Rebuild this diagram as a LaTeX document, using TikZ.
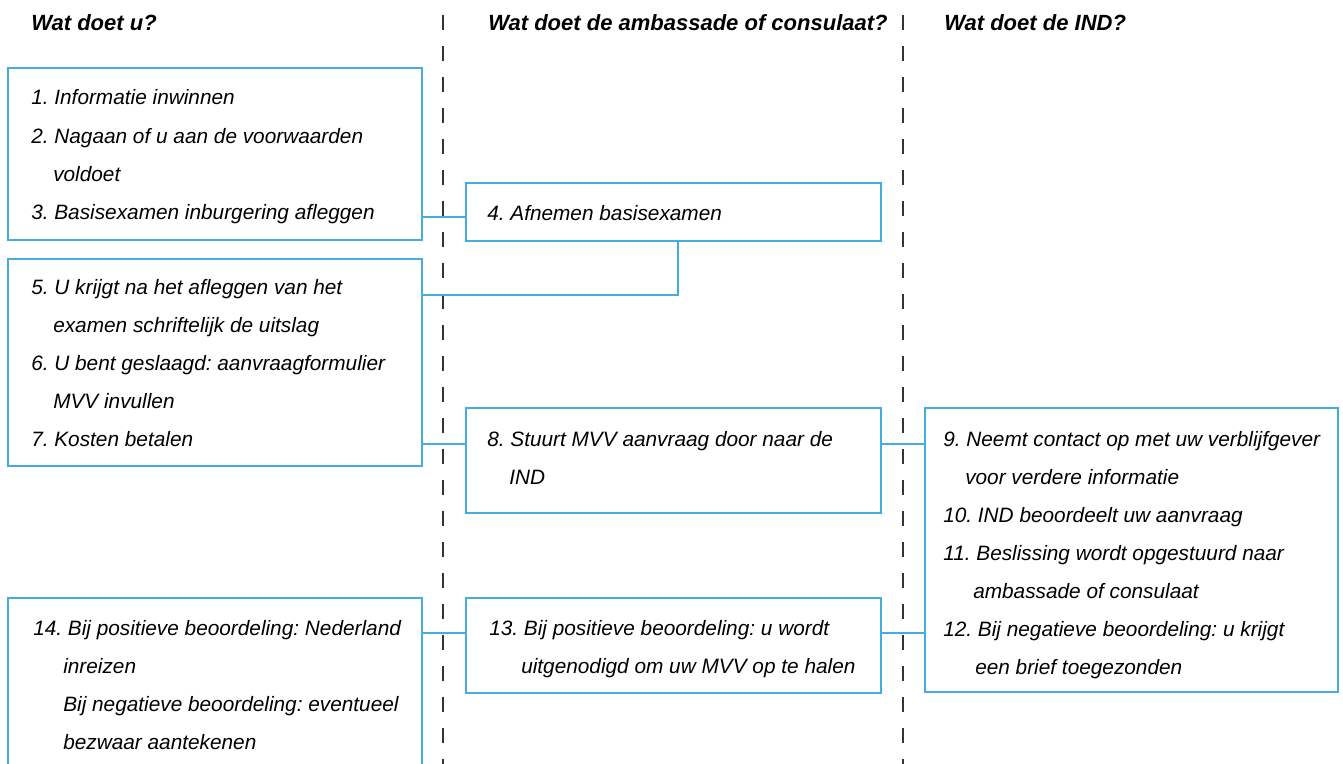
\documentclass[tikz,border=0pt]{standalone}
\usepackage{fontspec}
\setmainfont{Liberation Sans}
\usetikzlibrary{fit}
\definecolor{indblue}{HTML}{45ACDD}
\definecolor{dashgray}{HTML}{333333}
\frenchspacing
\begin{document}
\begin{tikzpicture}[x=0.75pt,y=-0.75pt,
  box/.style={draw=indblue,line width=2.1pt,inner sep=0pt},
  conn/.style={draw=indblue,line width=2.1pt},
  lane/.style={draw=dashgray,line width=1pt,dash pattern=on 11.25pt off 12pt},
  hdr/.style={anchor=base west,inner sep=0pt,font=\fontsize{16.5}{19}\selectfont\bfseries\itshape},
  txt/.style={anchor=base west,inner sep=0pt,font=\fontsize{15.6}{18}\selectfont\itshape}]
\useasboundingbox (0,0) rectangle (1343,764);
\clip (0,0) rectangle (1343,764);
\fill[white] (0,0) rectangle (1343,764);
% lanes
\coordinate (la1) at (443,15); \coordinate (lb1) at (443,764);
\coordinate (la2) at (903,15); \coordinate (lb2) at (903,764);
\draw[lane] (la1) -- (lb1);
\draw[lane] (la2) -- (lb2);
% headers
\node[hdr] (h1) at (31,30) {Wat doet u?};
\node[hdr] (h2) at (488,30) {Wat doet de ambassade of consulaat?};
\node[hdr] (h3) at (944,30) {Wat doet de IND?};
% corner coordinates
\coordinate (p1a) at (8,68);    \coordinate (p1b) at (422,240);
\coordinate (p4a) at (466,183); \coordinate (p4b) at (881,241);
\coordinate (p5a) at (8,259);   \coordinate (p5b) at (422,466);
\coordinate (p8a) at (466,408); \coordinate (p8b) at (881,513);
\coordinate (p9a) at (925,408); \coordinate (p9b) at (1338,692);
\coordinate (p13a) at (466,598); \coordinate (p13b) at (881,693);
\coordinate (p14a) at (8,598);  \coordinate (p14b) at (422,800);
% boxes
\node[box,fit=(p1a)(p1b)] (b1) {};
\node[box,fit=(p4a)(p4b)] (b4) {};
\node[box,fit=(p5a)(p5b)] (b5) {};
\node[box,fit=(p8a)(p8b)] (b8) {};
\node[box,fit=(p9a)(p9b)] (b9) {};
\node[box,fit=(p13a)(p13b)] (b13) {};
\node[box,fit=(p14a)(p14b)] (b14) {};
% connectors
\coordinate (y34) at (0,217);
\coordinate (k45) at (678,295);
\coordinate (y78) at (0,444);
\coordinate (y12) at (0,633);
\draw[conn] (b1.east |- y34) -- (b4.west |- y34);
\draw[conn] (b4.south -| k45) -- (k45) -- (k45 -| b5.east);
\draw[conn] (b5.east |- y78) -- (b8.west |- y78);
\draw[conn] (b8.east |- y78) -- (b9.west |- y78);
\draw[conn] (b9.west |- y12) -- (b13.east |- y12);
\draw[conn] (b13.west |- y12) -- (b14.east |- y12);
% texts box 1
\node[txt] (t1) at (31,104) {1. Informatie inwinnen};
\node[txt] (t2) at (31,143) {2. Nagaan of u aan de voorwaarden};
\node[txt] (t2b) at (53,181) {voldoet};
\node[txt] (t3) at (31,219) {3. Basisexamen inburgering afleggen};
% box 4
\node[txt] (t4) at (487,220) {4. Afnemen basisexamen};
% box 5
\node[txt] (t5) at (31,294) {5. U krijgt na het afleggen van het};
\node[txt] (t5b) at (53,332) {examen schriftelijk de uitslag};
\node[txt] (t6) at (31,370) {6. U bent geslaagd: aanvraagformulier};
\node[txt] (t6b) at (53,408) {MVV invullen};
\node[txt] (t7) at (31,446) {7. Kosten betalen};
% box 8
\node[txt] (t8) at (487,446) {8. Stuurt MVV aanvraag door naar de};
\node[txt] (t8b) at (509,484) {IND};
% box 9
\node[txt] (t9) at (943,446) {9. Neemt contact op met uw verblijfgever};
\node[txt] (t9b) at (965,484) {voor verdere informatie};
\node[txt] (t10) at (943,522) {10. IND beoordeelt uw aanvraag};
\node[txt] (t11) at (943,560) {11. Beslissing wordt opgestuurd naar};
\node[txt] (t11b) at (973,598) {ambassade of consulaat};
\node[txt] (t12) at (943,636) {12. Bij negatieve beoordeling: u krijgt};
\node[txt] (t12b) at (975,674) {een brief toegezonden};
% box 13
\node[txt] (t13) at (489,635) {13. Bij positieve beoordeling: u wordt};
\node[txt] (t13b) at (521,673) {uitgenodigd om uw MVV op te halen};
% box 14
\node[txt] (t14) at (33,635) {14. Bij positieve beoordeling: Nederland};
\node[txt] (t14b) at (63,673) {inreizen};
\node[txt] (t14c) at (63,711) {Bij negatieve beoordeling: eventueel};
\node[txt] (t14d) at (63,749) {bezwaar aantekenen};
\end{tikzpicture}
\end{document}
